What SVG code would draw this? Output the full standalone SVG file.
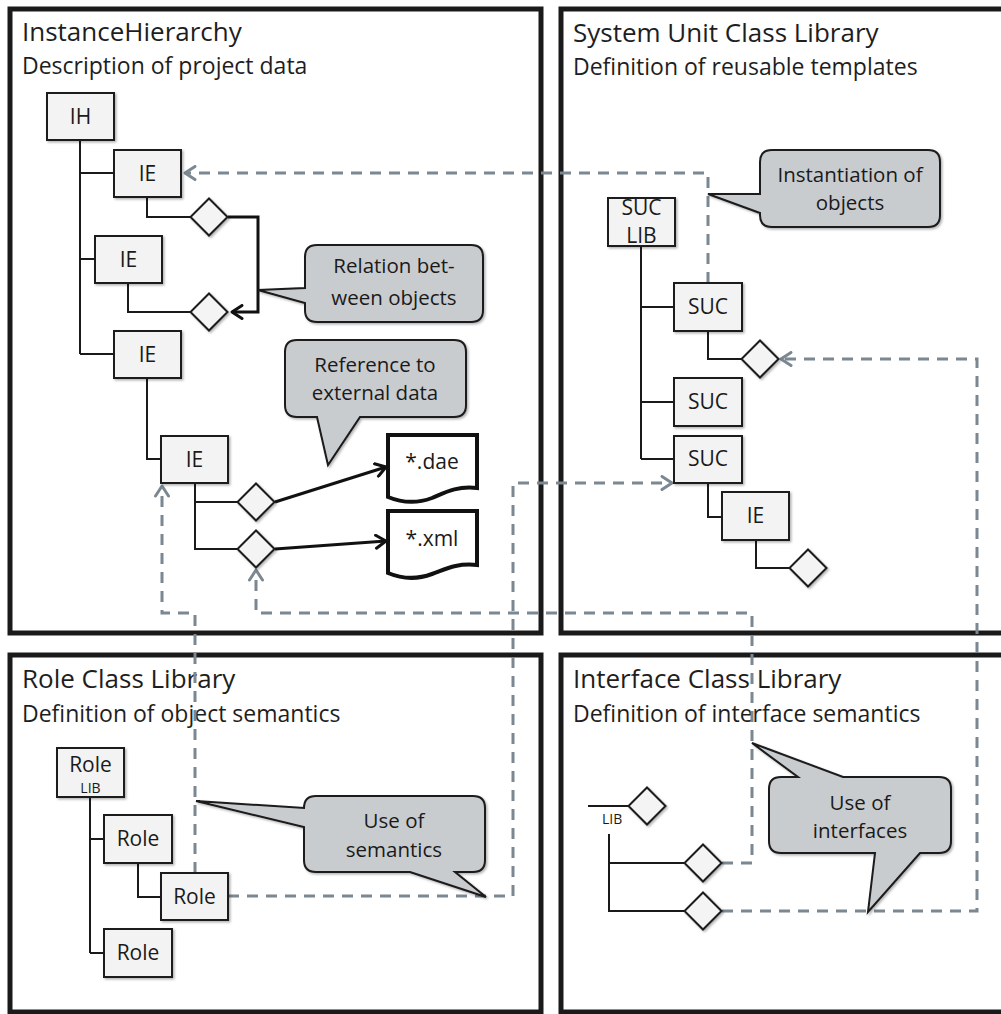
<svg xmlns="http://www.w3.org/2000/svg" width="1001" height="1014" viewBox="0 0 1001 1014">
<style>
.panel{fill:#fff;stroke:#1a1a1a;stroke-width:5}
.title{font-family:"Open Sans","Noto Sans",sans-serif;font-size:26px;fill:#1e1e1e}
.sub{font-family:"Open Sans","Noto Sans",sans-serif;font-size:23px;fill:#1e1e1e}
.box{fill:#f3f3f3;stroke:#1a1a1a;stroke-width:2;filter:url(#sh)}
.dia{fill:#f4f4f4;stroke:#1a1a1a;stroke-width:2;filter:url(#sh)}
.lbl{font-family:"Open Sans","Noto Sans",sans-serif;font-size:21px;fill:#1a1a1a;text-anchor:middle}
.small{font-family:"Open Sans","Noto Sans",sans-serif;font-size:14px;fill:#1a1a1a;text-anchor:middle}
.tree{fill:none;stroke:#1a1a1a;stroke-width:2}
.thick{fill:none;stroke:#111;stroke-width:3}
.dash{fill:none;stroke:#7b8891;stroke-width:3;stroke-dasharray:11 8}
.call{fill:#c9cccf;stroke:#1a1a1a;stroke-width:2;filter:url(#sh)}
.doc{fill:#fff;stroke:#111;stroke-width:4}
.ctext{font-family:"Open Sans","Noto Sans",sans-serif;font-size:20.5px;fill:#1a1a1a;text-anchor:middle}
</style>
<defs>
<filter id="sh" x="-20%" y="-20%" width="140%" height="140%">
<feDropShadow dx="1.5" dy="1.5" stdDeviation="1.2" flood-color="#000" flood-opacity="0.3"/>
</filter>
<marker id="ag" viewBox="0 0 14 16" refX="12" refY="8" markerWidth="14" markerHeight="16" markerUnits="userSpaceOnUse" orient="auto">
<path d="M2,1.5 L12,8 L2,14.5" fill="none" stroke="#7b8891" stroke-width="3" stroke-linecap="round" stroke-linejoin="round"/>
</marker>
<marker id="ab" viewBox="0 0 14 16" refX="12" refY="8" markerWidth="14" markerHeight="16" markerUnits="userSpaceOnUse" orient="auto">
<path d="M2,1.5 L12,8 L2,14.5" fill="none" stroke="#111" stroke-width="3" stroke-linecap="round" stroke-linejoin="round"/>
</marker>
</defs>
<rect width="1001" height="1014" fill="#fff"/>

<g id="panels">
<g id="panel-ih"><rect class="panel" x="10" y="9" width="531" height="624"/>
<text class="title" x="22" y="41">InstanceHierarchy</text>
<text class="sub" x="22" y="74">Description of project data</text></g>
<g id="panel-suc"><rect class="panel" x="561" y="9" width="460" height="624"/>
<text class="title" x="573" y="42">System Unit Class Library</text>
<text class="sub" x="573" y="75">Definition of reusable templates</text></g>
<g id="panel-rcl"><rect class="panel" x="10" y="655" width="531" height="357"/>
<text class="title" x="22" y="688">Role Class Library</text>
<text class="sub" x="22" y="722">Definition of object semantics</text></g>
<g id="panel-icl"><rect class="panel" x="561" y="655" width="460" height="357"/>
<text class="title" x="573" y="688">Interface Class Library</text>
<text class="sub" x="573" y="722">Definition of interface semantics</text></g>
</g>

<g id="connectors">
<path class="tree" d="M80,141 V354 M80,173 H114 M80,259 H95 M80,354 H114 M147,198 V217 H191 M128,283 V312 H191 M147,378 V459 H161 M195,483 V549 H238 M195,502 H238"/>
<path class="tree" d="M641,246 V459 M641,307 H674 M641,402 H674 M641,459 H674 M708,331 V359 H742 M708,483 V517 H722 M756,540 V568 H790"/>
<path class="tree" d="M90,797 V953 M90,839 H104 M90,953 H104 M138,863 V897 H161"/>
<path class="tree" d="M588,806 H629 M609,834 V911 H685 M609,863 H685"/>
<path class="thick" d="M228,217 H258 V312 H232" marker-end="url(#ab)"/>
<path class="thick" d="M275,502 L386,467" marker-end="url(#ab)"/>
<path class="thick" d="M275,549 L386,541" marker-end="url(#ab)"/>
<path class="dash" d="M708,283 V173 H185" marker-end="url(#ag)"/>
<path class="dash" d="M722,911 H977 V359 H781" marker-end="url(#ag)"/>
<path class="dash" d="M722,863 H752 V613 H256 V570" marker-end="url(#ag)"/>
<path class="dash" d="M228,896 H513 V483 H672" marker-end="url(#ag)"/>
<path class="dash" d="M195,873 V613 H162 V486" marker-end="url(#ag)"/>
</g>

<g id="n-ih"><rect class="box" x="47" y="93" width="67" height="47"/><text class="lbl" x="80.5" y="124">IH</text></g>
<g id="n-ie1"><rect class="box" x="114" y="150" width="67" height="47"/><text class="lbl" x="147.5" y="181">IE</text></g>
<g id="n-ie2"><rect class="box" x="95" y="236" width="67" height="47"/><text class="lbl" x="128.5" y="267">IE</text></g>
<g id="n-ie3"><rect class="box" x="114" y="331" width="67" height="47"/><text class="lbl" x="147.5" y="362">IE</text></g>
<g id="n-ie4"><rect class="box" x="161" y="436" width="67" height="47"/><text class="lbl" x="194.5" y="467">IE</text></g>
<g id="d-ie1"><path class="dia" d="M209,198.5 L227.5,217 L209,235.5 L190.5,217 Z"/></g>
<g id="d-ie2"><path class="dia" d="M209,293.5 L227.5,312 L209,330.5 L190.5,312 Z"/></g>
<g id="d-ie4a"><path class="dia" d="M256,483.5 L274.5,502 L256,520.5 L237.5,502 Z"/></g>
<g id="d-ie4b"><path class="dia" d="M256,530.5 L274.5,549 L256,567.5 L237.5,549 Z"/></g>
<g id="n-dae"><path class="doc" d="M388,435 H477 V488 C456,486 446,492 432,498 C416,504 400,502 388,497 Z"/><text class="lbl" x="432" y="469">*.dae</text></g>
<g id="n-xml"><path class="doc" d="M388,511 H477 V565 C456,563 446,569 432,574 C416,580 400,578 388,573 Z"/><text class="lbl" x="432" y="546">*.xml</text></g>

<g id="n-suclib"><rect class="box" x="608" y="198" width="67" height="48"/><text class="lbl" x="641.5" y="215">SUC</text><text class="lbl" x="641.5" y="243">LIB</text></g>
<g id="n-suc1"><rect class="box" x="674" y="283" width="68" height="48"/><text class="lbl" x="708" y="314">SUC</text></g>
<g id="n-suc2"><rect class="box" x="674" y="378" width="68" height="48"/><text class="lbl" x="708" y="409">SUC</text></g>
<g id="n-suc3"><rect class="box" x="674" y="436" width="68" height="47"/><text class="lbl" x="708" y="466">SUC</text></g>
<g id="n-sucie"><rect class="box" x="722" y="492" width="67" height="48"/><text class="lbl" x="755.5" y="523">IE</text></g>
<g id="d-suc1"><path class="dia" d="M760,340.5 L778.5,359 L760,377.5 L741.5,359 Z"/></g>
<g id="d-sucie"><path class="dia" d="M808,549.5 L826.5,568 L808,586.5 L789.5,568 Z"/></g>

<g id="n-rolelib"><rect class="box" x="57" y="748" width="67" height="49"/><text class="lbl" x="90.5" y="772">Role</text><text class="small" x="90.5" y="793">LIB</text></g>
<g id="n-role1"><rect class="box" x="104" y="815" width="68" height="48"/><text class="lbl" x="138" y="846">Role</text></g>
<g id="n-role2"><rect class="box" x="161" y="873" width="67" height="47"/><text class="lbl" x="194.5" y="904">Role</text></g>
<g id="n-role3"><rect class="box" x="104" y="929" width="68" height="48"/><text class="lbl" x="138" y="960">Role</text></g>

<g id="n-icllib"><text class="small" x="602" y="824" style="text-anchor:start">LIB</text><path class="dia" d="M647,787.5 L665.5,806 L647,824.5 L628.5,806 Z"/></g>
<g id="d-icl1"><path class="dia" d="M703,844.5 L721.5,863 L703,881.5 L684.5,863 Z"/></g>
<g id="d-icl2"><path class="dia" d="M703,892.5 L721.5,911 L703,929.5 L684.5,911 Z"/></g>

<g id="c-relation"><path class="call" d="M317,245 H471 Q483,245 483,257 V310 Q483,322 471,322 H317 Q305,322 305,310 V303 L258,290 L305,288 V257 Q305,245 317,245 Z"/>
<text class="ctext" x="394" y="273">Relation bet-</text><text class="ctext" x="394" y="305">ween objects</text></g>
<g id="c-reference"><path class="call" d="M297,340 H454 Q466,340 466,352 V405 Q466,417 454,417 H360 L328,465 L317,417 H297 Q285,417 285,405 V352 Q285,340 297,340 Z"/>
<text class="ctext" x="375" y="372">Reference to</text><text class="ctext" x="375" y="400">external data</text></g>
<g id="c-instantiation"><path class="call" d="M772,150 H928 Q940,150 940,162 V215 Q940,227 928,227 H772 Q760,227 760,215 V213 L708,194 L760,194 V162 Q760,150 772,150 Z"/>
<text class="ctext" x="850" y="182">Instantiation of</text><text class="ctext" x="850" y="210">objects</text></g>
<g id="c-semantics"><path class="call" d="M316,796 H473 Q485,796 485,808 V860 Q485,872 473,872 H455 L486,897 L410,872 H316 Q304,872 304,860 V827 L196,801 L304,808 Q304,796 316,796 Z"/>
<text class="ctext" x="394" y="828">Use of</text><text class="ctext" x="394" y="857">semantics</text></g>
<g id="c-interfaces"><path class="call" d="M781,777 H798 L752,743 L843,777 H939 Q951,777 951,789 V841 Q951,853 939,853 H920 L868,912 L875,853 H781 Q769,853 769,841 V789 Q769,777 781,777 Z"/>
<text class="ctext" x="860" y="810">Use of</text><text class="ctext" x="860" y="838">interfaces</text></g>
</svg>
